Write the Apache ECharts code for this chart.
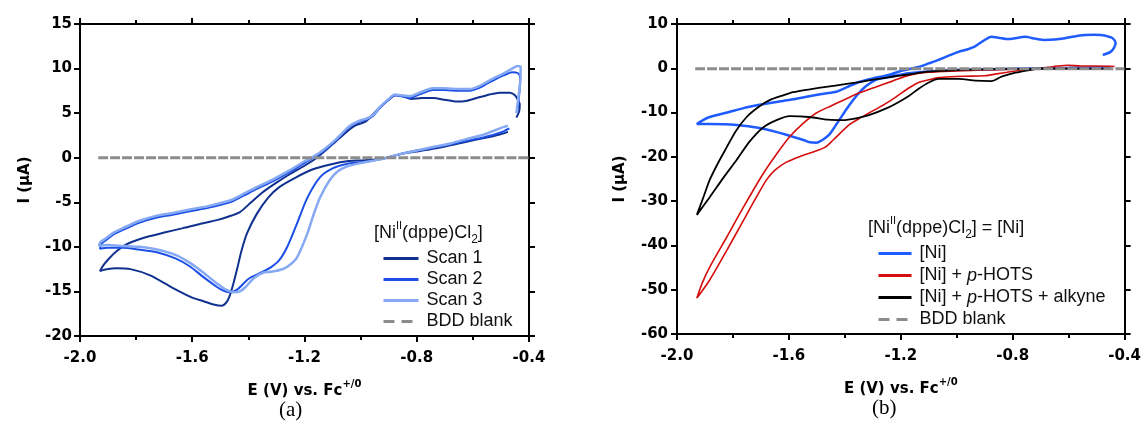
<!DOCTYPE html>
<html>
<head>
<meta charset="utf-8">
<script src="https://cdn.jsdelivr.net/npm/echarts@6/dist/echarts.min.js"></script>
<style>
  html, body { margin: 0; padding: 0; background: #fff; }
  #chart { width: 1144px; height: 425px; }
</style>
</head>
<body>
<div id="chart"></div>
<script>
// ---- Cyclic voltammograms, [E (V vs Fc+/0), I (µA)] in sweep order ----

// (a) three consecutive scans of [NiII(dppe)Cl2]
const scan1 = [
  [-0.475, 2.9], [-0.504, 2.6], [-0.56, 2.2], [-0.622, 1.8], [-0.68, 1.4], [-0.743, 1.0],
  [-0.80, 0.7], [-0.86, 0.4], [-0.906, 0.0], [-0.95, -0.2], [-1.0, -0.3], [-1.049, -0.4],
  [-1.10, -0.7], [-1.17, -1.3], [-1.23, -2.2], [-1.29, -3.3], [-1.33, -4.5], [-1.37, -6.3],
  [-1.405, -8.5], [-1.425, -10.5], [-1.441, -12.6], [-1.455, -14.3], [-1.468, -15.6],
  [-1.48, -16.3], [-1.495, -16.6], [-1.52, -16.5], [-1.56, -16.1], [-1.60, -15.7],
  [-1.67, -14.6], [-1.75, -13.2], [-1.82, -12.5], [-1.87, -12.4], [-1.905, -12.5], [-1.929, -12.7],
  [-1.915, -12.0], [-1.893, -11.2], [-1.87, -10.5], [-1.84, -9.8], [-1.775, -9.0], [-1.70, -8.4],
  [-1.633, -7.9], [-1.57, -7.4], [-1.512, -7.0], [-1.47, -6.6], [-1.43, -6.1], [-1.39, -5.0],
  [-1.35, -3.9], [-1.30, -2.8], [-1.25, -1.8], [-1.20, -0.9], [-1.156, 0.0], [-1.10, 1.5],
  [-1.05, 2.9], [-1.02, 3.6], [-0.98, 4.1], [-0.94, 5.4], [-0.90, 6.5], [-0.875, 7.0],
  [-0.85, 6.9], [-0.82, 6.6], [-0.78, 6.7], [-0.74, 6.7], [-0.70, 6.5], [-0.657, 6.3],
  [-0.62, 6.4], [-0.586, 6.7], [-0.54, 7.1], [-0.504, 7.3], [-0.468, 7.3], [-0.45, 7.0],
  [-0.44, 6.5], [-0.433, 6.0], [-0.435, 5.2], [-0.445, 4.5]
];
const scan2 = [
  [-0.47, 3.3], [-0.504, 2.8], [-0.56, 2.3], [-0.622, 1.9], [-0.68, 1.5], [-0.743, 1.1],
  [-0.80, 0.8], [-0.86, 0.4], [-0.906, 0.0], [-0.95, -0.3], [-1.0, -0.5], [-1.05, -0.7],
  [-1.10, -1.2], [-1.145, -2.2], [-1.19, -4.5], [-1.227, -7.4], [-1.26, -9.9], [-1.29, -11.5],
  [-1.32, -12.3], [-1.35, -12.8], [-1.40, -13.6], [-1.44, -14.8], [-1.465, -15.1], [-1.49, -14.9],
  [-1.512, -14.5], [-1.56, -13.4], [-1.608, -12.2], [-1.66, -11.3], [-1.726, -10.6],
  [-1.79, -10.3], [-1.847, -10.1], [-1.90, -10.1], [-1.929, -10.2],
  [-1.925, -9.7], [-1.91, -9.3], [-1.88, -8.6], [-1.847, -8.1], [-1.79, -7.3], [-1.726, -6.7],
  [-1.67, -6.4], [-1.608, -6.0], [-1.54, -5.6], [-1.466, -5.0], [-1.42, -4.3], [-1.37, -3.5],
  [-1.31, -2.6], [-1.252, -1.6], [-1.20, -0.6], [-1.17, 0.0], [-1.134, 0.7], [-1.09, 1.9],
  [-1.038, 3.5], [-1.0, 4.1], [-0.978, 4.3], [-0.955, 4.7], [-0.931, 5.6], [-0.90, 6.5],
  [-0.878, 7.0], [-0.855, 6.9], [-0.825, 6.7], [-0.79, 7.1], [-0.743, 7.6], [-0.70, 7.6],
  [-0.65, 7.5], [-0.611, 7.5], [-0.58, 7.8], [-0.55, 8.3], [-0.52, 8.8], [-0.493, 9.2],
  [-0.46, 9.6], [-0.44, 9.5], [-0.432, 9.0], [-0.433, 7.8], [-0.44, 5.5]
];
const scan3 = [
  [-0.475, 3.6], [-0.504, 3.3], [-0.56, 2.6], [-0.622, 2.1], [-0.68, 1.6], [-0.743, 1.2],
  [-0.80, 0.8], [-0.86, 0.4], [-0.906, 0.0], [-0.95, -0.3], [-1.0, -0.6], [-1.05, -1.0],
  [-1.08, -1.5], [-1.11, -2.5], [-1.145, -4.5], [-1.17, -6.6], [-1.191, -8.6], [-1.227, -11.2],
  [-1.26, -12.2], [-1.288, -12.6], [-1.32, -12.8], [-1.348, -12.9], [-1.38, -13.5],
  [-1.41, -14.5], [-1.43, -15.0], [-1.45, -15.1], [-1.48, -14.8], [-1.512, -14.1],
  [-1.56, -12.9], [-1.608, -11.8], [-1.66, -10.9], [-1.726, -10.3], [-1.79, -10.0],
  [-1.847, -9.9], [-1.90, -9.8], [-1.932, -9.9],
  [-1.928, -9.5], [-1.91, -9.1], [-1.88, -8.4], [-1.847, -7.9], [-1.79, -7.1], [-1.726, -6.5],
  [-1.67, -6.2], [-1.608, -5.8], [-1.54, -5.4], [-1.466, -4.8], [-1.42, -4.1], [-1.37, -3.3],
  [-1.31, -2.4], [-1.252, -1.4], [-1.20, -0.4], [-1.175, 0.0], [-1.14, 0.7], [-1.09, 2.0],
  [-1.038, 3.6], [-1.0, 4.2], [-0.978, 4.4], [-0.955, 4.8], [-0.931, 5.7], [-0.90, 6.6],
  [-0.878, 7.1], [-0.855, 7.0], [-0.825, 6.9], [-0.79, 7.3], [-0.743, 7.8], [-0.70, 7.8],
  [-0.65, 7.7], [-0.611, 7.7], [-0.58, 8.0], [-0.55, 8.5], [-0.52, 9.0], [-0.493, 9.4],
  [-0.46, 10.0], [-0.44, 10.3], [-0.43, 10.2], [-0.43, 9.0], [-0.435, 7.5], [-0.445, 5.0]
];
const blankA = [[-1.935, 0.0], [-0.40, 0.0]];

// (b) [Ni] alone, with p-HOTS, and with p-HOTS + alkyne
const niOnly = [
  [-0.45, 0.3], [-0.6, 0.1], [-0.8, -0.1], [-0.95, -0.3], [-1.07, -0.6], [-1.172, -1.1],
  [-1.243, -2.0], [-1.289, -2.6], [-1.324, -4.0], [-1.35, -5.6], [-1.371, -7.2], [-1.395, -9.3],
  [-1.42, -11.7], [-1.44, -13.6], [-1.456, -15.0], [-1.48, -16.2], [-1.502, -16.8],
  [-1.525, -16.7], [-1.548, -16.2], [-1.609, -15.0], [-1.705, -13.5], [-1.787, -12.8],
  [-1.883, -12.6], [-1.929, -12.6],
  [-1.91, -11.8], [-1.883, -11.0], [-1.82, -10.0], [-1.762, -9.0], [-1.70, -8.2],
  [-1.644, -7.6], [-1.585, -7.0], [-1.527, -6.3], [-1.47, -5.7], [-1.431, -5.3], [-1.39, -4.2],
  [-1.349, -3.1], [-1.30, -2.3], [-1.243, -1.5], [-1.20, -0.6], [-1.136, 0.3], [-1.10, 1.1],
  [-1.065, 1.9], [-1.03, 2.8], [-0.994, 3.7], [-0.96, 4.3], [-0.933, 5.0], [-0.905, 6.2],
  [-0.876, 7.1], [-0.85, 6.9], [-0.816, 6.6], [-0.79, 6.8], [-0.756, 7.1], [-0.72, 6.7],
  [-0.684, 6.4], [-0.65, 6.5], [-0.613, 6.8], [-0.58, 7.2], [-0.542, 7.5], [-0.51, 7.6],
  [-0.485, 7.5], [-0.46, 7.2], [-0.443, 6.8], [-0.432, 5.7], [-0.438, 4.6], [-0.45, 3.7],
  [-0.478, 3.0]
];
const niHots = [
  [-0.436, 0.4], [-0.50, 0.5], [-0.556, 0.5], [-0.603, 0.7], [-0.64, 0.5], [-0.674, 0.2],
  [-0.734, -0.3], [-0.78, -0.5], [-0.82, -0.9], [-0.852, -1.2], [-0.90, -1.7], [-0.969, -1.8],
  [-1.02, -1.9], [-1.065, -2.1], [-1.10, -2.6], [-1.136, -3.2], [-1.17, -4.4], [-1.218, -6.5],
  [-1.26, -8.2], [-1.314, -10.1], [-1.35, -11.4], [-1.385, -12.8], [-1.442, -16.2],
  [-1.47, -17.8], [-1.513, -18.9], [-1.56, -19.9], [-1.609, -21.2], [-1.65, -23.0],
  [-1.68, -25.2], [-1.72, -29.5], [-1.762, -34.3], [-1.822, -41.1], [-1.883, -47.8], [-1.929, -51.9],
  [-1.91, -48.5], [-1.883, -44.9], [-1.822, -38.1], [-1.762, -31.3], [-1.691, -23.7],
  [-1.64, -19.0], [-1.598, -15.5], [-1.55, -12.5], [-1.502, -10.1], [-1.45, -8.5],
  [-1.406, -7.2], [-1.35, -5.6], [-1.289, -4.2], [-1.23, -2.9], [-1.172, -1.6], [-1.10, -0.9],
  [-1.0, -0.6], [-0.9, -0.4], [-0.8, -0.2], [-0.7, -0.1], [-0.6, 0.0]
];
const niHotsAlkyne = [
  [-0.45, -0.1], [-0.55, -0.1], [-0.62, -0.1], [-0.698, 0.0], [-0.74, -0.4], [-0.79, -1.0],
  [-0.84, -1.9], [-0.876, -2.9], [-0.933, -2.8], [-0.994, -2.4], [-1.065, -2.4], [-1.10, -3.2],
  [-1.136, -4.6], [-1.17, -6.2], [-1.207, -7.6], [-1.25, -9.0], [-1.314, -10.6], [-1.36, -11.3],
  [-1.406, -11.7], [-1.46, -11.6], [-1.527, -11.0], [-1.598, -10.8], [-1.64, -11.6],
  [-1.691, -13.3], [-1.74, -16.5], [-1.787, -20.7], [-1.835, -24.8], [-1.883, -29.1], [-1.929, -33.1],
  [-1.905, -29.0], [-1.883, -25.2], [-1.85, -21.0], [-1.822, -17.8], [-1.79, -14.2],
  [-1.751, -11.0], [-1.71, -8.8], [-1.669, -7.2], [-1.62, -6.1], [-1.585, -5.4], [-1.52, -4.7],
  [-1.467, -4.2], [-1.40, -3.6], [-1.349, -3.1], [-1.28, -2.4], [-1.22, -1.8], [-1.172, -1.4],
  [-1.111, -0.8], [-1.0, -0.4], [-0.85, -0.2], [-0.7, -0.1], [-0.5, -0.1]
];
const blankB = [[-1.935, -0.1], [-0.40, -0.1]];

// Legend entries
const namesA = ['Scan 1', 'Scan 2', 'Scan 3', 'BDD blank'];
const namesB = ['[Ni]', '[Ni] + p-HOTS', '[Ni] + p-HOTS + alkyne', 'BDD blank '];

// Axis ranges and tick steps
const xRange = [-2.0, -0.4], xStep = 0.4;
const yRangeA = [-20, 15], yStepA = 5;
const yRangeB = [-60, 10], yStepB = 10;

// ---- styling ----
const TICK_FONT = '"DejaVu Sans", sans-serif';
const TEXT_FONT = '"Liberation Sans", Arial, sans-serif';
const colorsA = ['#10318f', '#1c4fe6', '#86a9f3', '#8c8c8c'];
const colorsB = ['#1f5cff', '#d60d0d', '#000000', '#8c8c8c'];

const frameLine = { show: true, onZero: false, lineStyle: { color: '#000', width: 2 } };
const tick = { show: true, inside: false, length: 6, lineStyle: { color: '#000', width: 2 } };

function xAxes(gridIndex) {
  const base = {
    type: 'value', gridIndex, min: xRange[0], max: xRange[1], interval: xStep,
    axisLine: frameLine, axisTick: tick, splitLine: { show: false },
    minorTick: { show: true, splitNumber: 2, length: 4, lineStyle: { color: '#000', width: 2 } }
  };
  return [
    Object.assign({}, base, {
      position: 'bottom',
      axisLabel: { margin: 15, fontFamily: TICK_FONT, fontWeight: 'bold', fontSize: 15, color: '#000',
        formatter: v => v.toFixed(1) },
      name: 'E (V) vs. Fc{sup|+/0}', nameLocation: 'middle', nameGap: 43,
      nameTextStyle: {
        fontFamily: TICK_FONT, fontWeight: 'bold', fontSize: 15, color: '#000', lineHeight: 24,
        rich: { sup: { fontFamily: TICK_FONT, fontWeight: 'bold', fontSize: 10, color: '#000',
          verticalAlign: 'top', lineHeight: 10 } }
      }
    }),
    Object.assign({}, base, { position: 'top', axisLabel: { show: false } })
  ];
}
function yAxes(gridIndex, range, step, margin, gap) {
  const base = {
    type: 'value', gridIndex, min: range[0], max: range[1], interval: step,
    axisLine: frameLine, axisTick: tick, splitLine: { show: false }
  };
  return [
    Object.assign({}, base, {
      position: 'left',
      axisLabel: { margin, fontFamily: TICK_FONT, fontWeight: 'bold', fontSize: 15, color: '#000' },
      name: 'I (µA)', nameLocation: 'middle', nameGap: gap, nameRotate: 90,
      nameTextStyle: { fontFamily: TICK_FONT, fontWeight: 'bold', fontSize: 15, color: '#000' }
    }),
    Object.assign({}, base, { position: 'right', axisLabel: { show: false } })
  ];
}

function lineSeries(name, data, color, width, xi, yi, dashed) {
  return {
    type: 'line', name, data, xAxisIndex: xi, yAxisIndex: yi,
    symbol: 'none', showSymbol: false, smooth: 0.25, animation: false,
    lineStyle: { color, width, type: dashed ? [10, 2] : 'solid' },
    itemStyle: { color }
  };
}

const legendText = { fontFamily: TEXT_FONT, fontSize: 18, color: '#111', lineHeight: 21,
  padding: [0, 0, 0, 3],
  rich: { i: { fontFamily: TEXT_FONT, fontSize: 18, fontStyle: 'italic', color: '#111', lineHeight: 21 } } };

// legend keys are plain line samples: the marker dot is hidden
function legendItems(names) {
  return names.map((n, i) => ({
    name: n,
    itemStyle: { opacity: 0, borderWidth: 0 },
    lineStyle: { width: 3, type: i === 3 ? [11, 7] : 'solid' }
  }));
}

const richTitle = {
  sup: { fontFamily: TEXT_FONT, fontSize: 11, fill: '#111', verticalAlign: 'top', lineHeight: 11 },
  sub: { fontFamily: TEXT_FONT, fontSize: 12, fill: '#111', verticalAlign: 'bottom', lineHeight: 12 }
};

const chart = echarts.init(document.getElementById('chart'), null, { renderer: 'canvas' });
chart.setOption({
  animation: false,
  backgroundColor: '#fff',
  grid: [
    { left: 80, top: 24, width: 449, height: 312 },
    { left: 677, top: 24, width: 449, height: 310 }
  ],
  xAxis: [...xAxes(0), ...xAxes(1)],
  yAxis: [...yAxes(0, yRangeA, yStepA, 8, 47), ...yAxes(1, yRangeB, yStepB, 9, 49)],
  legend: [
    {
      orient: 'vertical', left: 377, top: 243, itemWidth: 35, itemHeight: 14, itemGap: 0,
      data: legendItems(namesA),
      textStyle: legendText, selectedMode: false
    },
    {
      orient: 'vertical', left: 872, top: 238, itemWidth: 33, itemHeight: 14, itemGap: 1,
      data: legendItems(namesB),
      formatter: n => n.replace('p-HOTS', '{i|p}-HOTS').trim(),
      textStyle: legendText, selectedMode: false
    }
  ],
  series: [
    lineSeries(namesA[0], scan1, colorsA[0], 2, 0, 0),
    lineSeries(namesA[1], scan2, colorsA[1], 2, 0, 0),
    lineSeries(namesA[2], scan3, colorsA[2], 2.5, 0, 0),
    lineSeries(namesA[3], blankA, colorsA[3], 3, 0, 0, true),
    lineSeries(namesB[0], niOnly, colorsB[0], 2.5, 2, 2),
    lineSeries(namesB[1], niHots, colorsB[1], 1.6, 2, 2),
    lineSeries(namesB[2], niHotsAlkyne, colorsB[2], 1.8, 2, 2),
    lineSeries(namesB[3], blankB, colorsB[3], 3, 2, 2, true)
  ],
  graphic: [
    { type: 'text', left: 374, top: 220,
      style: { text: '[Ni{sup|II}(dppe)Cl{sub|2}]', fontFamily: TEXT_FONT, fontSize: 18, fill: '#111',
        lineHeight: 26, rich: richTitle } },
    { type: 'text', left: 868, top: 215,
      style: { text: '[Ni{sup|II}(dppe)Cl{sub|2}] = [Ni]', fontFamily: TEXT_FONT, fontSize: 18, fill: '#111',
        lineHeight: 26, rich: richTitle } },
    { type: 'text', left: 279, top: 400,
      style: { text: '(a)', fontFamily: '"Liberation Serif", "Times New Roman", serif', fontSize: 21, fill: '#000' } },
    { type: 'text', left: 872, top: 398,
      style: { text: '(b)', fontFamily: '"Liberation Serif", "Times New Roman", serif', fontSize: 21, fill: '#000' } }
  ]
});
</script>
</body>
</html>
